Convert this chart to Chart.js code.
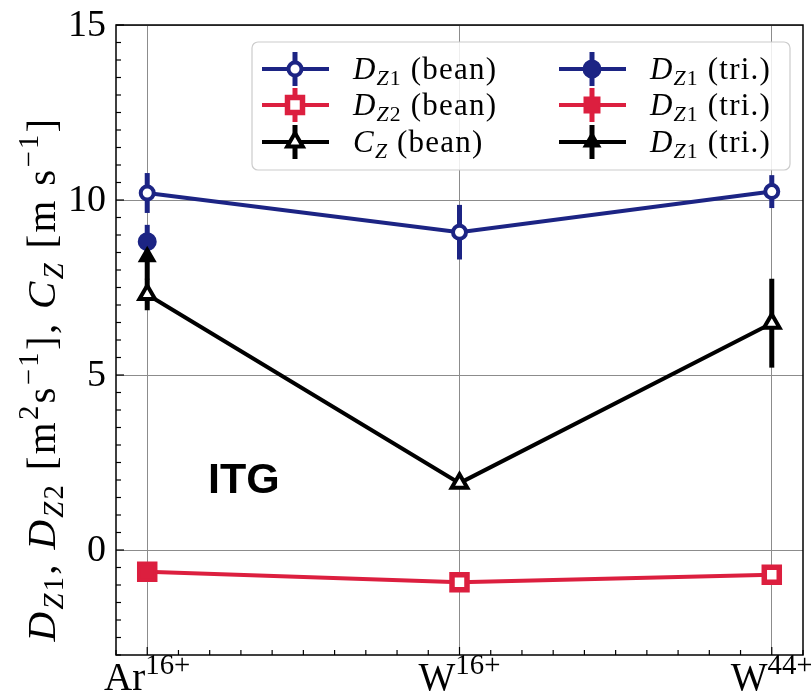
<!DOCTYPE html>
<html>
<head>
<meta charset="utf-8">
<script src="https://cdn.jsdelivr.net/npm/chart.js@4.4.0/dist/chart.umd.min.js"></script>
<style>
  html, body { margin: 0; padding: 0; background: #fff; }
  #wrap { width: 811px; height: 695px; }
</style>
</head>
<body>
<div id="wrap"><canvas id="chart" width="811" height="695"></canvas></div>
<script>
// categories on the x axis (base + superscript)
const categories = ['Ar', 'W', 'W'];
const categorySup = ['16+', '16+', '44+'];
const xPos = [0, 1, 2];
const yTicks = [0, 5, 10, 15];

// values
const dz1Bean = [10.2, 9.08, 10.24];
const dz1BeanErr = [0.57, 0.78, 0.47];
const dz2Bean = [-0.62, -0.92, -0.71];
const dz2BeanErr = [0, 0, 0];
const czBean = [7.3, 1.91, 6.48];
const czBeanErr = [0.45, 0, 1.27];
const dz1Tri = [8.81];
const dz1TriErr = [0.48];
const dz2Tri = [-0.62];
const dz2TriErr = [0];
const czTri = [8.38];
const czTriErr = [0.65];

const NAVY = '#1c2484';
const RED = '#dc1f3f';
const BLACK = '#000000';
const SERIF = '"Liberation Serif", "Times New Roman", serif';

// rich text pieces
const R = t => ({ t });
const I = t => ({ t, it: true });
const Sb = (t, it) => ({ t, sub: true, it: !!it });
const Sp = t => ({ t, sup: true });

const legendItems = [
  { col: 0, row: 0, color: NAVY, style: 'circle', open: true, label: [I('D'), Sb('Z', true), Sb('1'), R(' (bean)')] },
  { col: 0, row: 1, color: RED, style: 'rect', open: true, label: [I('D'), Sb('Z', true), Sb('2'), R(' (bean)')] },
  { col: 0, row: 2, color: BLACK, style: 'triangle', open: true, label: [I('C'), Sb('Z', true), R(' (bean)')] },
  { col: 1, row: 0, color: NAVY, style: 'circle', open: false, label: [I('D'), Sb('Z', true), Sb('1'), R(' (tri.)')] },
  { col: 1, row: 1, color: RED, style: 'rect', open: false, label: [I('D'), Sb('Z', true), Sb('1'), R(' (tri.)')] },
  { col: 1, row: 2, color: BLACK, style: 'triangle', open: false, label: [I('D'), Sb('Z', true), Sb('1'), R(' (tri.)')] }
];

const yTitle = [I('D'), Sb('Z', true), Sb('1'), R(', '), I('D'), Sb('Z', true), Sb('2'), R(' [m'), Sp('2'), R('s'), Sp('\u22121'), R('], '),
  I('C'), Sb('Z', true), R(' [m s'), Sp('\u22121'), R(']')];

const markerSize = {
  circle: { open: 6.5, filled: 8.5, bw: 4 },
  rect: { open: 10.6, filled: 10.6, bw: 5.5 },
  triangle: { open: 9, filled: 9, bw: 4 }
};

function pts(vals) {
  return vals.map((v, i) => ({ x: xPos[i], y: v }));
}

function series(vals, errs, color, style, open, order) {
  const m = markerSize[style];
  return {
    data: pts(vals),
    errors: errs,
    borderColor: color,
    backgroundColor: color,
    borderWidth: 4,
    pointStyle: style,
    pointRadius: open ? m.open : m.filled,
    pointBorderWidth: open ? m.bw : 2,
    pointBorderColor: color,
    pointBackgroundColor: open ? '#ffffff' : color,
    fill: false,
    tension: 0,
    order: order
  };
}

function partFont(p, size, supScale) {
  const s = (p.sub || p.sup) ? size * supScale : size;
  return (p.it ? 'italic ' : '') + s + 'px ' + SERIF;
}

function drawRich(ctx, parts, x, y, size, align, spacing, supScale) {
  supScale = supScale || 0.7;
  ctx.letterSpacing = (spacing || 0) + 'px';
  let w = 0;
  parts.forEach(p => { ctx.font = partFont(p, size, supScale); w += ctx.measureText(p.t).width; });
  let cx = align === 'center' ? x - w / 2 : (align === 'right' ? x - w : x);
  ctx.textAlign = 'left';
  ctx.textBaseline = 'alphabetic';
  parts.forEach(p => {
    ctx.font = partFont(p, size, supScale);
    let dy = 0;
    if (p.sub) dy = size * 0.2;
    if (p.sup) dy = -size * 0.42;
    ctx.fillText(p.t, cx, y + dy);
    cx += ctx.measureText(p.t).width;
  });
  ctx.letterSpacing = '0px';
}

function drawMarker(ctx, style, x, y, r, bw, color, open) {
  ctx.save();
  ctx.beginPath();
  if (style === 'circle') {
    ctx.arc(x, y, r, 0, Math.PI * 2);
  } else if (style === 'rect') {
    const s = r * Math.SQRT1_2;
    ctx.rect(x - s, y - s, 2 * s, 2 * s);
  } else {
    let a = 0;
    ctx.moveTo(x + Math.sin(a) * r, y - Math.cos(a) * r);
    a += Math.PI * 2 / 3;
    ctx.lineTo(x + Math.sin(a) * r, y - Math.cos(a) * r);
    a += Math.PI * 2 / 3;
    ctx.lineTo(x + Math.sin(a) * r, y - Math.cos(a) * r);
    ctx.closePath();
  }
  ctx.fillStyle = open ? '#ffffff' : color;
  ctx.strokeStyle = color;
  ctx.lineWidth = bw;
  ctx.fill();
  ctx.stroke();
  ctx.restore();
}

// vertical error bars, under all lines and markers
const errorBars = {
  id: 'errorBars',
  beforeDatasetsDraw(chart) {
    const ctx = chart.ctx;
    const ys = chart.scales.y;
    chart.data.datasets.forEach((ds, di) => {
      const meta = chart.getDatasetMeta(di);
      ctx.save();
      ctx.strokeStyle = ds.borderColor;
      ctx.lineWidth = 5;
      meta.data.forEach((pt, i) => {
        const e = ds.errors[i];
        if (!e) return;
        const v = ds.data[i].y;
        ctx.beginPath();
        ctx.moveTo(pt.x, ys.getPixelForValue(v + e));
        ctx.lineTo(pt.x, ys.getPixelForValue(v - e));
        ctx.stroke();
      });
      ctx.restore();
    });
  }
};

// frame, minor ticks, labels, legend
const decorations = {
  id: 'decorations',
  afterDatasetsDraw(chart) {
    const ctx = chart.ctx;
    const a = chart.chartArea;
    const xs = chart.scales.x, ys = chart.scales.y;
    ctx.save();
    ctx.strokeStyle = '#000';
    ctx.lineWidth = 1.2;
    // minor ticks y every 0.5
    for (let k = -6; k <= 30; k++) {
      const py = ys.getPixelForValue(k / 2);
      const len = k % 10 === 0 ? 8 : 5;
      ctx.beginPath();
      ctx.moveTo(a.left, py);
      ctx.lineTo(a.left + len, py);
      ctx.stroke();
    }
    // minor ticks x every 0.1
    for (let k = -1; k <= 21; k++) {
      const px = xs.getPixelForValue(k / 10);
      const len = k % 10 === 0 ? 8 : 5;
      ctx.beginPath();
      ctx.moveTo(px, a.bottom);
      ctx.lineTo(px, a.bottom - len);
      ctx.stroke();
    }
    ctx.lineWidth = 1.5;
    ctx.strokeRect(a.left, a.top, a.right - a.left, a.bottom - a.top);
    ctx.restore();
  },
  afterDraw(chart) {
    const ctx = chart.ctx;
    const xs = chart.scales.x, ys = chart.scales.y;
    ctx.save();
    ctx.fillStyle = '#000';
    // y tick labels
    ctx.font = '38px ' + SERIF;
    ctx.textAlign = 'right';
    ctx.textBaseline = 'middle';
    yTicks.forEach(v => ctx.fillText(String(v), 106, ys.getPixelForValue(v) + 1));
    // x tick labels with superscripts
    categories.forEach((c, i) => {
      drawRich(ctx, [R(c), Sp(categorySup[i])], xs.getPixelForValue(xPos[i]), 690, 39, 'center', 0, 0.74);
    });
    // y axis title, rotated
    ctx.save();
    ctx.translate(55, 379);
    ctx.rotate(-Math.PI / 2);
    drawRich(ctx, yTitle, 0, 0, 41, 'center', 2.3);
    ctx.restore();
    // ITG annotation
    ctx.font = 'bold 43px "Liberation Sans", Arial, sans-serif';
    ctx.textAlign = 'left';
    ctx.textBaseline = 'alphabetic';
    ctx.fillText('ITG', 208, 493);

    // legend box
    const bx = 252, by = 42, bw = 538, bh = 128;
    ctx.beginPath();
    ctx.roundRect(bx, by, bw, bh, 6);
    ctx.fillStyle = 'rgba(255,255,255,0.85)';
    ctx.fill();
    ctx.strokeStyle = '#cccccc';
    ctx.lineWidth = 1.2;
    ctx.stroke();

    const colX = [262, 559];
    const rowY = [69, 105, 142];
    legendItems.forEach(it => {
      const x0 = colX[it.col], y0 = rowY[it.row];
      const mx = x0 + 33;
      ctx.strokeStyle = it.color;
      ctx.lineWidth = 4;
      ctx.beginPath();
      ctx.moveTo(x0, y0);
      ctx.lineTo(x0 + 67, y0);
      ctx.stroke();
      ctx.lineWidth = 5;
      ctx.beginPath();
      ctx.moveTo(mx, y0 - 17);
      ctx.lineTo(mx, y0 + 17);
      ctx.stroke();
      const m = markerSize[it.style];
      drawMarker(ctx, it.style, mx, y0, it.open ? m.open : m.filled, it.open ? m.bw : 2, it.color, it.open);
      ctx.fillStyle = '#000';
      drawRich(ctx, it.label, x0 + 91, y0 + 10, 31, 'left', 1.2);
    });
    ctx.restore();
  }
};

const gridColor = '#8c8c8c';

new Chart(document.getElementById('chart'), {
  type: 'line',
  data: {
    datasets: [
      series(dz1Bean, dz1BeanErr, NAVY, 'circle', true, 6),
      series(czBean, czBeanErr, BLACK, 'triangle', true, 5),
      series(dz2Bean, dz2BeanErr, RED, 'rect', true, 4),
      series(dz1Tri, dz1TriErr, NAVY, 'circle', false, 3),
      series(dz2Tri, dz2TriErr, RED, 'rect', false, 2),
      series(czTri, czTriErr, BLACK, 'triangle', false, 1)
    ]
  },
  options: {
    responsive: false,
    animation: false,
    layout: { autoPadding: false, padding: { top: 25, right: 8, left: 0, bottom: 0 } },
    plugins: { legend: { display: false }, tooltip: { enabled: false } },
    scales: {
      x: {
        type: 'linear',
        min: -0.1,
        max: 2.1,
        afterBuildTicks: s => { s.ticks = xPos.map(v => ({ value: v })); },
        afterFit: s => { s.height = 40; s.paddingLeft = 0; s.paddingRight = 0; },
        ticks: { display: false },
        grid: { color: gridColor, lineWidth: 1, drawTicks: false },
        border: { display: false }
      },
      y: {
        min: -3,
        max: 15,
        afterBuildTicks: s => { s.ticks = yTicks.map(v => ({ value: v })); },
        afterFit: s => { s.width = 116; s.paddingTop = 0; s.paddingBottom = 0; },
        ticks: { display: false },
        grid: { color: gridColor, lineWidth: 1, drawTicks: false },
        border: { display: false }
      }
    }
  },
  plugins: [errorBars, decorations]
});
</script>
</body>
</html>
